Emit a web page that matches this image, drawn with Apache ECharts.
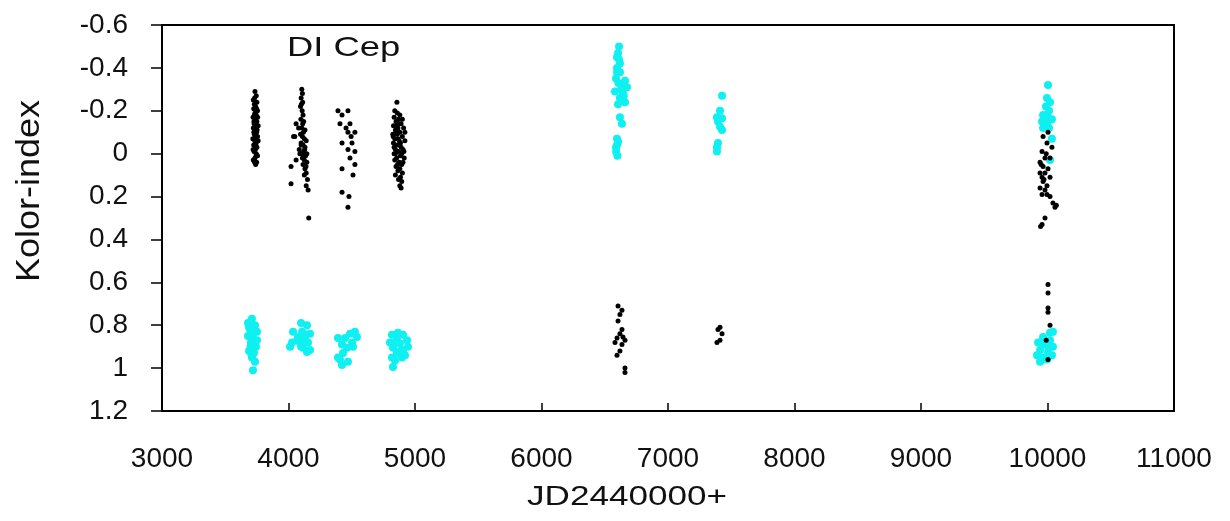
<!DOCTYPE html>
<html>
<head>
<meta charset="utf-8">
<script src="https://cdn.jsdelivr.net/npm/echarts@6/dist/echarts.min.js"></script>
<style>
  html, body { margin: 0; padding: 0; background: #fff; }
  #chart { width: 1230px; height: 521px; }
</style>
</head>
<body>
<div id="chart"></div>
<script>
// axis setup
const xTicks = [3000, 11000, 1000]
const yTicks = [-0.6, 1.2, 0.2]

// black points (upper clusters ~0, lower clusters ~0.85)
const blackPts = [
  // ~3730
  [3735,-0.29],[3745,-0.27],[3722,-0.25],[3750,-0.24],[3730,-0.23],[3740,-0.22],[3725,-0.21],[3755,-0.2],
  [3735,-0.19],[3745,-0.18],[3720,-0.17],[3738,-0.16],[3750,-0.15],[3728,-0.14],[3742,-0.13],[3760,-0.13],
  [3722,-0.12],[3735,-0.11],[3748,-0.1],[3730,-0.09],[3740,-0.08],[3755,-0.08],[3718,-0.07],[3733,-0.06],
  [3745,-0.05],[3725,-0.04],[3750,-0.03],[3738,-0.02],[3728,-0.01],[3745,0],[3755,0.01],[3735,0.02],
  [3722,0.03],[3748,0.04],[3740,0.05],[3730,-0.18],[3752,-0.11],[3727,-0.15],[3743,-0.03],[3760,-0.06],
  [3732,-0.26],[3748,-0.21],[3726,-0.1],[3756,-0.17],[3736,-0.07],[3720,-0.02],[3744,0.01],[3732,0.04],
  // ~4110
  [4105,-0.3],[4110,-0.28],[4100,-0.26],[4112,-0.24],[4095,-0.22],[4108,-0.2],[4115,-0.18],[4098,-0.16],
  [4120,-0.15],[4060,-0.14],[4080,-0.12],[4105,-0.12],[4130,-0.11],[4095,-0.09],[4110,-0.08],[4125,-0.07],
  [4040,-0.08],[4050,-0.08],[4140,-0.06],[4100,-0.05],[4115,-0.04],[4130,-0.03],[4085,-0.02],[4120,-0.01],
  [4105,0],[4135,0.01],[4110,0.02],[4125,0.03],[4145,0.04],[4115,0.05],[4130,0.07],[4020,0.06],
  [4140,0.09],[4125,0.1],[4150,0.12],[4020,0.14],[4140,0.15],[4155,0.17],[4160,0.3],[4100,-0.04],
  [4090,0.0],[4060,0.03],[4145,0.0],[4118,-0.1],[4102,-0.23],[4112,-0.14],[4128,-0.02],[4138,0.06],
  // ~4460
  [4391,-0.2],[4470,-0.2],[4423,-0.18],[4407,-0.14],[4486,-0.14],[4470,-0.1],[4525,-0.1],[4502,-0.05],
  [4423,-0.05],[4470,-0.02],[4525,-0.01],[4486,0.02],[4423,0.07],[4525,0.05],[4510,0.1],[4423,0.18],
  [4478,0.2],[4470,0.25],[4495,-0.08],[4455,-0.12],
  // ~4870
  [4857,-0.24],[4840,-0.2],[4860,-0.19],[4880,-0.18],[4835,-0.17],[4870,-0.16],[4900,-0.16],[4850,-0.15],
  [4890,-0.14],[4830,-0.13],[4865,-0.12],[4910,-0.12],[4845,-0.11],[4880,-0.1],[4825,-0.09],[4860,-0.09],
  [4900,-0.08],[4840,-0.07],[4875,-0.06],[4920,-0.06],[4830,-0.05],[4860,-0.04],[4890,-0.03],[4845,-0.02],
  [4905,-0.02],[4870,-0.01],[4835,0],[4885,0.01],[4855,0.02],[4915,0.02],[4840,0.03],[4875,0.04],
  [4895,0.05],[4850,0.06],[4880,0.07],[4865,0.08],[4900,0.09],[4845,0.1],[4885,0.11],[4870,0.12],
  [4895,0.13],[4880,0.15],[4890,0.16],[4850,-0.13],[4920,-0.1],[4865,-0.07],[4835,-0.03],[4905,0.04],
  [4855,-0.1],[4885,-0.05],[4845,0.0],[4912,-0.01],[4862,0.05],[4872,-0.14],[4828,-0.08],[4895,0.0],
  // ~10000 upper
  [10004,-0.1],[9965,-0.08],[9996,-0.05],[10035,-0.03],[9957,-0.01],[9980,0.02],[10020,0.02],[9941,0.04],
  [9965,0.06],[10004,0.07],[9941,0.09],[9980,0.09],[9957,0.11],[10020,0.11],[9965,0.13],[9996,0.15],
  [9941,0.16],[9980,0.17],[9957,0.19],[10020,0.2],[10043,0.23],[10059,0.25],[9996,0.19],[9980,0.3],
  [9957,0.33],[9945,0.34],[10070,0.24],[9972,0.12],[9950,0.05],[9990,0.0],
  // ~6620 lower
  [6605,0.71],[6636,0.73],[6620,0.75],[6605,0.78],[6636,0.82],[6620,0.84],[6597,0.86],[6660,0.87],
  [6581,0.88],[6636,0.89],[6620,0.92],[6597,0.94],[6660,1.0],[6660,1.02],[6644,0.855],
  // ~7410 lower
  [7411,0.81],[7395,0.82],[7427,0.84],[7411,0.87],[7387,0.88],
  // ~10000 lower
  [10004,0.61],[10004,0.65],[10004,0.72],[10004,0.74],[10020,0.8],[10004,0.96],[9990,0.87]
]

// cyan points (upper clusters 6600, 7400, 10000; lower clusters 3700-4900, 10000)
const cyanPts = [
  // ~6620 upper
  [6613,-0.5],[6605,-0.47],[6597,-0.45],[6620,-0.42],[6597,-0.4],[6620,-0.38],[6589,-0.35],[6660,-0.34],
  [6636,-0.32],[6676,-0.31],[6581,-0.29],[6644,-0.28],[6620,-0.26],[6660,-0.24],[6605,-0.23],[6620,-0.17],
  [6636,-0.14],[6597,-0.07],[6597,-0.04],[6589,-0.03],[6605,-0.055],[6644,-0.25],[6597,-0.38],[6590,-0.01],
  [6600,0.01],[6612,-0.44],[6630,-0.3],[6650,-0.27],[6608,-0.33],
  // ~7410 upper
  [7427,-0.27],[7411,-0.2],[7387,-0.17],[7427,-0.165],[7395,-0.15],[7427,-0.11],[7395,-0.05],[7387,-0.03],
  [7387,-0.01],[7411,-0.125],
  // ~10000 upper
  [10004,-0.32],[9996,-0.26],[10020,-0.24],[9988,-0.22],[10012,-0.2],[9965,-0.18],[10004,-0.17],[10035,-0.16],
  [9957,-0.15],[9996,-0.14],[9965,-0.12],[10012,-0.12],[10035,-0.07],[10020,0.03],[9980,-0.16],
  // ~3720 lower
  [3711,0.77],[3680,0.79],[3735,0.8],[3696,0.82],[3751,0.83],[3680,0.85],[3719,0.86],[3703,0.88],
  [3743,0.9],[3688,0.92],[3727,0.93],[3711,0.95],[3735,0.97],[3719,1.01],[3751,0.87],[3688,0.81],[3719,0.84],
  [3700,0.9],[3730,0.82],[3708,0.94],
  // ~4100 lower
  [4099,0.79],[4146,0.8],[4036,0.83],[4107,0.83],[4170,0.84],[4075,0.855],[4130,0.86],[4028,0.88],
  [4091,0.88],[4154,0.88],[4012,0.9],[4115,0.905],[4170,0.915],[4067,0.87],[4146,0.925],[4120,0.84],[4100,0.9],
  // ~4460 lower
  [4525,0.83],[4486,0.84],[4541,0.855],[4391,0.86],[4447,0.86],[4502,0.88],[4423,0.89],[4462,0.905],
  [4431,0.93],[4407,0.96],[4470,0.97],[4423,0.985],[4391,0.95],[4510,0.9],
  // ~4870 lower
  [4818,0.845],[4905,0.845],[4857,0.86],[4937,0.87],[4802,0.88],[4881,0.885],[4944,0.9],[4826,0.905],
  [4905,0.915],[4857,0.93],[4818,0.95],[4897,0.95],[4842,0.965],[4826,0.995],[4921,0.94],[4865,0.835],
  [4880,0.92],[4840,0.88],
  // ~10000 lower
  [10020,0.835],[10043,0.83],[9965,0.855],[10020,0.87],[9925,0.88],[9980,0.89],[10043,0.9],[9941,0.915],
  [10004,0.925],[9917,0.94],[9965,0.95],[10035,0.94],[9941,0.97],[9996,0.96],[9957,0.89],[10010,0.9]
]

const font = 'Liberation Sans, Arial, sans-serif'
const chart = echarts.init(document.getElementById('chart'))

chart.setOption({
  animation: false,
  grid: {
    left: 162, right: 56, top: 25, bottom: 110,
    show: true, borderColor: '#000', borderWidth: 2
  },
  graphic: [
    // 标题在图内
    { type: 'text', left: 287, top: 34, style: { text: 'DI Cep', font: '28px ' + font, fill: '#111' }, scaleX: 1.3 },
    { type: 'text', left: 527, top: 484, style: { text: 'JD2440000+', font: '27px ' + font, fill: '#111' }, scaleX: 1.3 },
    { type: 'text', x: 13, y: 282, rotation: Math.PI / 2, style: { text: 'Kolor-index', font: '30px ' + font, fill: '#111' }, scaleX: 1.2, scaleY: 1.1 }
  ],
  xAxis: {
    type: 'value',
    min: xTicks[0], max: xTicks[1], interval: xTicks[2],
    splitLine: { show: false },
    axisLine: { onZero: false, lineStyle: { color: '#000', width: 2 } },
    axisTick: { inside: true, length: 8, lineStyle: { color: '#000', width: 1.5 } },
    axisLabel: { color: '#111', fontSize: 28, fontFamily: font, margin: 34, formatter: v => String(v) }
  },
  yAxis: {
    type: 'value',
    inverse: true,
    min: yTicks[0], max: yTicks[1], interval: yTicks[2],
    splitLine: { show: false },
    axisLine: { show: true, onZero: false, lineStyle: { color: '#000', width: 2 } },
    axisTick: { show: true, length: 11, lineStyle: { color: '#000', width: 1.5 } },
    axisLabel: {
      color: '#111', fontSize: 28, fontFamily: font, margin: 34,
      formatter: v => String(+v.toFixed(1))
    }
  },
  series: [
    {
      name: 'cyan', type: 'scatter', data: cyanPts,
      symbolSize: 8, itemStyle: { color: '#0ff0f0', opacity: 1 }
    },
    {
      name: 'black', type: 'scatter', data: blackPts,
      symbolSize: 5, itemStyle: { color: '#000', opacity: 1 }
    }
  ]
})
</script>
</body>
</html>
